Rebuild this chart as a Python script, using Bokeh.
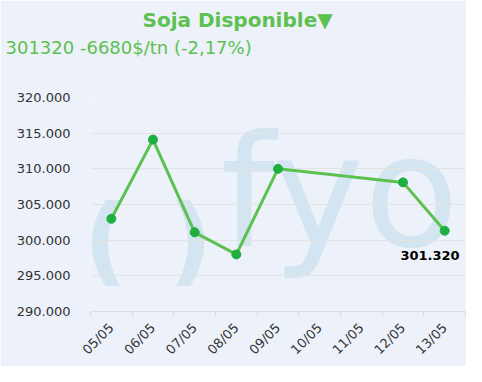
import math
from bokeh.plotting import figure
from bokeh.models import Label, FixedTicker, Title
from bokeh.embed import file_html
from bokeh.resources import INLINE

# ---- data ----
dates = ["05/05", "06/05", "07/05", "08/05", "09/05", "10/05", "11/05", "12/05", "13/05"]
prices = [303000, 314100, 301100, 298000, 310000, None, None, 308100, 301320]
y_ticks = [290000, 295000, 300000, 305000, 310000, 315000, 320000]
title_text = "Soja Disponible\u25BC"
subtitle_text = "301320 -6680$/tn (-2,17%)"
watermark_text = "fyo"

BG = "#edf1f9"
GREEN = "#5cc150"
LINE = "#5cc150"
MARK = "#1fae40"
WM = "#d3e5f0"
FONT = "DejaVu Sans"

xs = [i + 0.5 for i in range(len(dates))]
pts_x = [x for x, v in zip(xs, prices) if v is not None]
pts_y = [v for v in prices if v is not None]

FL = 90  # frame left
p = figure(width=466, height=366, output_backend="svg", toolbar_location=None,
           x_range=(0, len(dates)), y_range=(y_ticks[0], y_ticks[-1]))
p.min_border_left = FL
p.min_border_right = 1
p.min_border_top = 97
p.min_border_bottom = 55
p.background_fill_color = BG
p.border_fill_color = BG
p.outline_line_color = None

# titles (first added sits closest to the plot area)
p.add_layout(Title(text=" ", standoff=0, text_font=FONT, text_font_size="32px"), "above")
p.add_layout(Title(text=subtitle_text, align="left", offset=5 - FL, standoff=0,
                   text_font=FONT, text_font_size="18px", text_font_style="normal",
                   text_color=GREEN), "above")
p.add_layout(Title(text=title_text, align="left", offset=142 - FL, standoff=6,
                   text_font=FONT, text_font_size="20px", text_font_style="bold",
                   text_color=GREEN), "above")

# watermark
for txt, x, y, size, style in [("(", -7, 72, "96px", "bold"), (")", 78, 72, "96px", "bold"),
                                (watermark_text, 130, 119, "155px", "normal")]:
    p.add_layout(Label(x=x, y=y, x_units="screen", y_units="screen", text=txt,
                       text_font=FONT, text_font_size=size, text_font_style=style,
                       text_color=WM, text_baseline="alphabetic", level="image"))

p.line(pts_x, pts_y, line_color=LINE, line_width=3)
p.scatter(pts_x, pts_y, size=9, fill_color=MARK, line_color=MARK)

# last value label
last_label = f"{pts_y[-1]:,}".replace(",", ".")
p.add_layout(Label(x=pts_x[-1], y=pts_y[-1], text=last_label, text_font=FONT,
                   text_font_size="13px", text_font_style="bold", text_color="#000000",
                   text_align="right", text_baseline="alphabetic", x_offset=15, y_offset=-25))

# axes
p.xgrid.grid_line_color = None
p.ygrid.grid_line_color = "#e3e3e3"
p.yaxis.ticker = FixedTicker(ticks=y_ticks)
p.yaxis.major_label_overrides = {v: f"{v:,}".replace(",", ".") for v in y_ticks}
p.yaxis.axis_line_color = None
p.yaxis.major_tick_line_color = None
p.yaxis.minor_tick_line_color = None
p.yaxis.major_label_standoff = 14
p.yaxis.major_label_text_font = FONT
p.yaxis.major_label_text_font_size = "13px"
p.yaxis.major_label_text_color = "#333333"

p.xaxis.ticker = FixedTicker(ticks=xs, minor_ticks=list(range(len(dates) + 1)))
p.xaxis.major_label_overrides = {x: d for x, d in zip(xs, dates)}
p.xaxis.major_label_orientation = math.pi / 4
p.xaxis.axis_line_color = "#dcdcdc"
p.xaxis.major_tick_line_color = None
p.xaxis.minor_tick_line_color = "#dcdcdc"
p.xaxis.minor_tick_in = 0
p.xaxis.minor_tick_out = 5
p.xaxis.major_label_standoff = 8
p.xaxis.major_label_text_font = FONT
p.xaxis.major_label_text_font_size = "13px"
p.xaxis.major_label_text_color = "#333333"

html = file_html(p, INLINE)
html = html.replace("<body>", '<body style="background:%s">' % BG, 1)
open("out.html", "w").write(html)
